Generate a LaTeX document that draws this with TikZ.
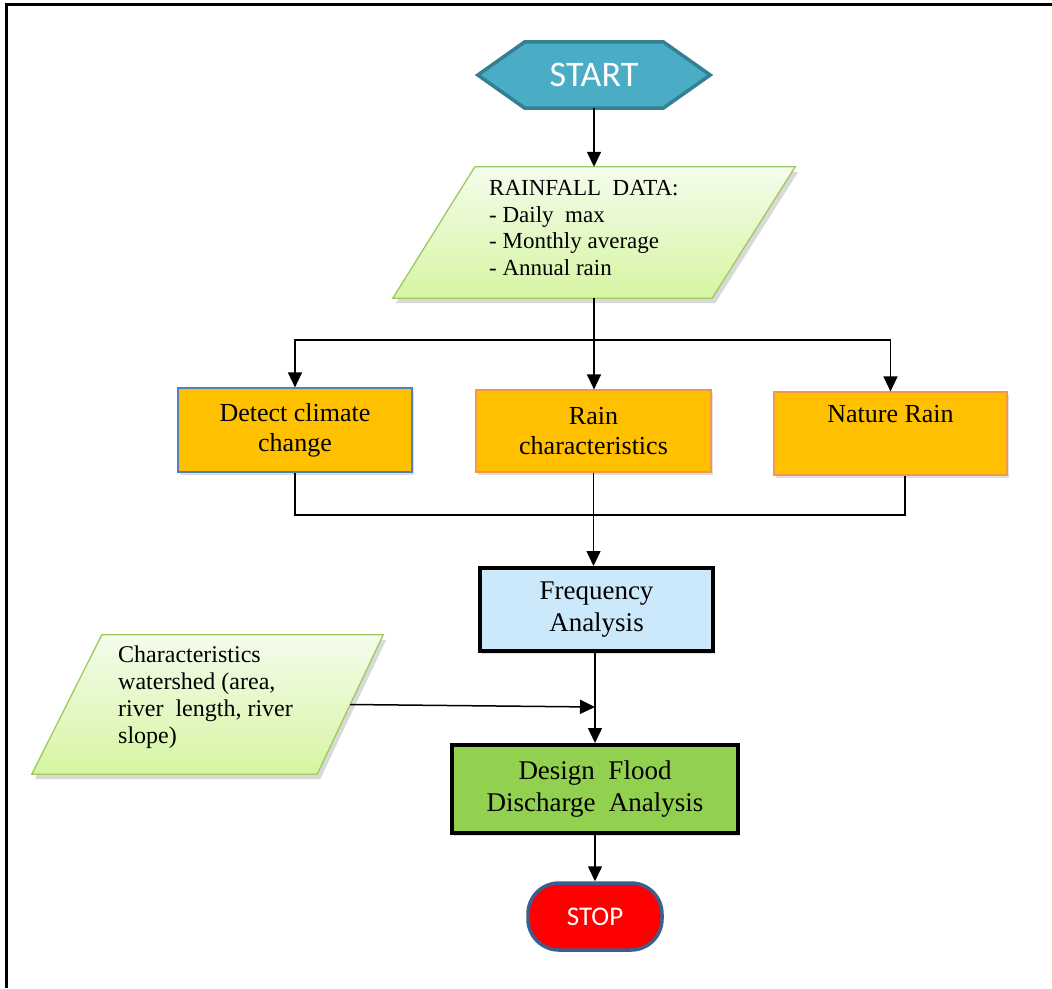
\documentclass[tikz,border=0pt]{standalone}
\usepackage{fontspec}
\setmainfont{Liberation Serif}
\newfontfamily\calibri{Carlito}
\usetikzlibrary{arrows.meta,shadows,backgrounds,calc}
\definecolor{startfill}{HTML}{4BACC6}
\definecolor{startdraw}{HTML}{357F93}
\definecolor{pgtop}{HTML}{F4FCEC}
\definecolor{pgbot}{HTML}{D6F5A2}
\definecolor{pgdraw}{HTML}{9BCB5F}
\definecolor{gold}{HTML}{FFC000}
\definecolor{blueedge}{HTML}{4F81BD}
\definecolor{orangeedge}{HTML}{F79646}
\definecolor{freqfill}{HTML}{CCE9FB}
\definecolor{designfill}{HTML}{92D050}
\definecolor{stopedge}{HTML}{3B5E8C}
\tikzset{
  arr/.style={-{Triangle[length=15pt,width=14pt]}, line width=1.5pt},
  link/.style={line width=1.5pt},
  boxshadow/.style={drop shadow={shadow xshift=2pt, shadow yshift=-3pt, opacity=0.25, fill=gray}},
  goldbox/.style={rectangle, fill=gold, line width=1.2pt, boxshadow, align=center,
    font=\rmfamily\fontsize{26}{30}\selectfont, inner sep=0pt},
  bigbox/.style={rectangle, draw=black, line width=4pt, align=center,
    font=\rmfamily\fontsize{27}{31.5}\selectfont, inner sep=0pt, boxshadow},
  frame/.style={inner sep=0pt},
  pgshape/.style={top color=pgtop, bottom color=pgbot, draw=pgdraw, line width=1.3pt,
    drop shadow={shadow xshift=3pt, shadow yshift=-5pt, opacity=0.3, fill=gray}},
  listtext/.style={anchor=west, align=left, inner sep=0pt},
}
\begin{document}
\begin{tikzpicture}[x=1pt, y=-1pt]
\useasboundingbox (0,0) rectangle (1052,988);
\draw[line width=3pt] (6,988) -- (6,4) -- (1052,4);

% START
\node[frame, minimum width=232pt, minimum height=66pt, text=white,
  font=\calibri\fontsize{36}{40}\selectfont] (start) at (594,75) {START};
\begin{scope}[on background layer]
\path[fill=startfill, draw=startdraw, line width=3.5pt, line join=miter]
  (start.west) -- ([xshift=47pt]start.north west) -- ([xshift=-47pt]start.north east)
  -- (start.east) -- ([xshift=-47pt]start.south east) -- ([xshift=47pt]start.south west) -- cycle;
\end{scope}

% RAINFALL DATA
\node[frame, minimum width=402pt, minimum height=131pt] (rainfall) at (594,232.5) {};
\begin{scope}[on background layer]
\path[pgshape] (rainfall.south west) -- ([xshift=82pt]rainfall.north west)
  -- (rainfall.north east) -- ([xshift=-83pt]rainfall.south east) -- cycle;
\end{scope}
\node[listtext, font=\rmfamily\fontsize{23}{26.7}\selectfont] (raintext) at (489,228)
  {RAINFALL\ \ DATA:\\- Daily\ \ max\\- Monthly average\\- Annual rain};

% three gold boxes
\node[goldbox, draw=blueedge, minimum width=234pt, minimum height=84pt] (detect) at (295,430)
  {Detect climate\\change};
\node[goldbox, draw=orangeedge, minimum width=235pt, minimum height=82pt] (rainc) at (593.5,431)
  {Rain\\characteristics};
\node[goldbox, draw=orangeedge, minimum width=233pt, minimum height=83pt] (nature) at (890.5,433.5)
  {Nature Rain\\\strut};

% Frequency Analysis
\node[bigbox, fill=freqfill, minimum width=233pt, minimum height=83pt] (freq) at (596.5,609.5)
  {Frequency\\Analysis};

% Design Flood
\node[bigbox, fill=designfill, minimum width=286pt, minimum height=88pt] (design) at (595,789)
  {Design\ \ Flood\\Discharge\ \ Analysis};

% Characteristics watershed
\node[frame, minimum width=351pt, minimum height=139pt] (water) at (207.5,704.5) {};
\begin{scope}[on background layer]
\path[pgshape] (water.south west) -- ([xshift=70pt]water.north west)
  -- (water.north east) -- ([xshift=-66pt]water.south east) -- cycle;
\end{scope}
\node[listtext, font=\rmfamily\fontsize{24}{27}\selectfont] (watertext) at (118,697.5)
  {Characteristics\\watershed (area,\\river\ \ length, river\\slope)};
\coordinate (waterR) at ($(water.north east)!0.5!([xshift=-66pt]water.south east)$);

% STOP
\node[rectangle, rounded corners=31pt, fill=red, draw=stopedge, line width=3.5pt,
  minimum width=134pt, minimum height=67pt, text=white,
  font=\calibri\fontsize{27}{30}\selectfont] (stop) at (595,916.5) {STOP};

% connectors
\draw[arr] (start.south) -- (rainfall.south |- rainfall.north);
\coordinate (split) at (594,340);
\draw[arr] (rainfall.south) -- (rainfall.south |- rainc.north);
\draw[arr] (split) -| (detect.north);
\draw[arr] (split) -| (nature.north);
\coordinate (mergeL) at (295,515);
\coordinate (natureB) at ([xshift=14.5pt]nature.south);
\draw[link] (detect.south) -- (mergeL) -| (natureB);
\draw[arr] (rainc.south) -- (rainc.south |- freq.north);
\coordinate (freqB) at (freq.south -| design.north);
\draw[arr] (freqB) -- (design.north);
\draw[arr] (waterR) -- ($(freqB)!0.6!(design.north)$);
\draw[arr] (design.south) -- (stop.north);
\end{tikzpicture}
\end{document}
